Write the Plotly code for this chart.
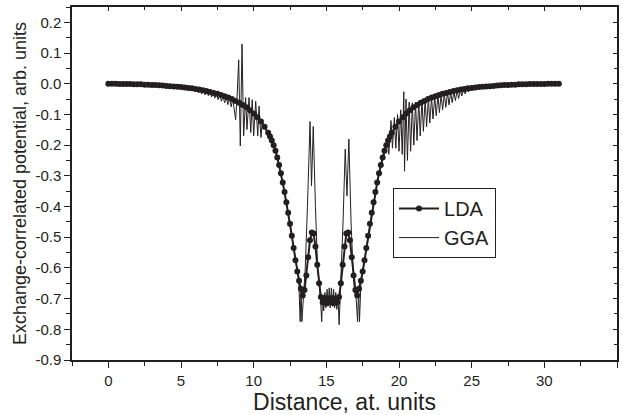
import numpy as np
import plotly.graph_objects as go

# ---------------- data ----------------
# LDA: x = 0 .. 11 (step 0.25)
lda_left = [0.000, 0.000, 0.000, -0.001, -0.001, -0.001, -0.001, -0.002, -0.002, -0.002,
            -0.003, -0.003, -0.004, -0.004, -0.005, -0.006, -0.007, -0.008, -0.009, -0.010,
            -0.011, -0.012, -0.014, -0.015, -0.017, -0.019, -0.021, -0.024, -0.027, -0.030,
            -0.033, -0.037, -0.041, -0.045, -0.050, -0.056, -0.062, -0.069, -0.077, -0.086,
            -0.097, -0.109, -0.123, -0.140, -0.160]
# LDA: x = 11.125 .. 19.375 (step 0.125)
lda_mid = [-0.172, -0.185, -0.200, -0.218, -0.240, -0.265, -0.292, -0.322, -0.353, -0.386,
           -0.420, -0.456, -0.495, -0.535, -0.575, -0.612, -0.642, -0.668, -0.690, -0.672,
           -0.625, -0.565, -0.510, -0.485, -0.488, -0.530, -0.590, -0.650, -0.695, -0.712,
           -0.698, -0.715, -0.700, -0.712, -0.698, -0.715, -0.700, -0.712, -0.695, -0.650,
           -0.590, -0.530, -0.488, -0.485, -0.510, -0.565, -0.625, -0.672, -0.690, -0.668,
           -0.642, -0.612, -0.575, -0.535, -0.495, -0.456, -0.420, -0.386, -0.353, -0.322,
           -0.292, -0.265, -0.240, -0.218, -0.200, -0.185, -0.172]
# LDA: x = 19.5 .. 31 (step 0.25)
lda_right = [-0.160, -0.140, -0.123, -0.109, -0.097, -0.086, -0.077, -0.069, -0.062, -0.056,
             -0.050, -0.045, -0.041, -0.037, -0.033, -0.030, -0.027, -0.024, -0.021, -0.019,
             -0.017, -0.015, -0.014, -0.012, -0.011, -0.010, -0.009, -0.008, -0.007, -0.006,
             -0.005, -0.004, -0.004, -0.003, -0.003, -0.002, -0.002, -0.002, -0.001, -0.001,
             -0.001, -0.001, -0.001, 0.000, 0.000, 0.000, 0.000]

lda_x = np.concatenate([
    np.arange(len(lda_left)) * 0.25,
    11.125 + np.arange(len(lda_mid)) * 0.125,
    19.5 + np.arange(len(lda_right)) * 0.25,
])
lda_y = np.array(lda_left + lda_mid + lda_right)

# GGA
gga_x = [0, 1, 2, 3, 4, 5, 5.5, 6.0,
         6.1, 6.2, 6.32, 6.42, 6.55, 6.65, 6.78, 6.88, 7.0, 7.1, 7.22, 7.32, 7.45, 7.55,
         7.68, 7.78, 7.9, 8.0, 8.12, 8.22, 8.35, 8.45, 8.56, 8.66,
         8.76, 8.86, 8.97, 9.08, 9.2, 9.31, 9.45, 9.54, 9.68, 9.8, 9.9, 10.0, 10.14, 10.28,
         10.37, 10.5, 10.6, 10.75, 11.0, 11.25, 11.5, 11.75, 12.0, 12.25, 12.5, 12.75, 12.9,
         13.0, 13.1, 13.2, 13.26, 13.32, 13.42, 13.55, 13.7, 13.88, 13.98, 14.1, 14.25, 14.4,
         14.52, 14.6, 14.68, 14.75, 14.82, 14.9, 14.97, 15.05, 15.12, 15.2, 15.27, 15.35,
         15.42, 15.5, 15.57, 15.65, 15.72, 15.8, 15.88, 15.95, 16.05, 16.15, 16.3, 16.42,
         16.55, 16.7, 16.85, 16.95, 17.05, 17.15, 17.22, 17.28, 17.38, 17.5, 17.6, 17.75,
         18.0, 18.25, 18.5, 18.75, 19.0, 19.2, 19.3,
         19.45, 19.55, 19.68, 19.78, 19.9, 20.0, 20.12, 20.22, 20.33, 20.38, 20.48, 20.58,
         20.7, 20.8, 20.92, 21.02, 21.14, 21.24, 21.36, 21.46, 21.58, 21.68, 21.8, 21.9,
         22.02, 22.12, 22.24, 22.34, 22.46, 22.56, 22.68, 22.78, 22.9, 23.0, 23.12, 23.22,
         23.34, 23.44, 23.56, 23.66, 23.78, 23.88, 24.0, 24.1, 24.22, 24.32, 24.45, 24.55,
         24.68, 24.78, 24.9, 25.0, 25.15, 25.25,
         25.5, 26, 27, 28, 29, 30, 31]
gga_y = [0.000, -0.001, -0.002, -0.004, -0.007, -0.011, -0.014, -0.017,
         -0.018, -0.030, -0.020, -0.033, -0.022, -0.036, -0.024, -0.039, -0.027, -0.043,
         -0.030, -0.047, -0.033, -0.052, -0.036, -0.057, -0.040, -0.062, -0.043, -0.068,
         -0.047, -0.075, -0.050, -0.090,
         -0.117, -0.040, 0.078, -0.203, 0.129, -0.170, -0.045, -0.149, -0.045, -0.159,
         -0.052, -0.170, -0.057, -0.170, -0.073, -0.175, -0.125, -0.140, -0.160, -0.185,
         -0.218, -0.265, -0.322, -0.386, -0.456, -0.535, -0.580,
         -0.612, -0.640, -0.775, -0.660, -0.775, -0.680, -0.600, -0.400, -0.123, -0.333,
         -0.139, -0.400, -0.600,
         -0.660, -0.700, -0.775, -0.690, -0.740, -0.680, -0.730, -0.670, -0.725, -0.665,
         -0.730, -0.665, -0.725, -0.670, -0.730, -0.680, -0.735, -0.690, -0.785, -0.700,
         -0.620, -0.450, -0.213, -0.365, -0.180, -0.450, -0.620, -0.680, -0.700, -0.775,
         -0.670, -0.775, -0.650, -0.615, -0.590, -0.535,
         -0.456, -0.386, -0.322, -0.265, -0.218, -0.190, -0.230,
         -0.120, -0.210, -0.110, -0.210, -0.100, -0.220, -0.085, -0.230, -0.026, -0.285,
         -0.050, -0.250, -0.060, -0.220, -0.062, -0.200, -0.060, -0.185, -0.056, -0.170,
         -0.052, -0.155, -0.049, -0.140, -0.046, -0.128, -0.043, -0.115, -0.040, -0.104,
         -0.037, -0.094, -0.034, -0.085, -0.031, -0.077, -0.029, -0.069, -0.027, -0.062,
         -0.025, -0.055, -0.022, -0.048, -0.020, -0.040, -0.018, -0.033, -0.016, -0.027,
         -0.015, -0.022, -0.013, -0.018,
         -0.011, -0.009, -0.005, -0.003, -0.001, -0.001, 0.000]

x_ticks = [0, 5, 10, 15, 20, 25, 30, 35]
y_ticks = [0.2, 0.1, 0.0, -0.1, -0.2, -0.3, -0.4, -0.5, -0.6, -0.7, -0.8, -0.9]
y_ticktext = ["0.2", "0.1", "0.0", "-0.1", "-0.2", "-0.3", "-0.4", "-0.5", "-0.6",
              "-0.7", "-0.8", "-0.9"]

INK = "#231f20"
FONT = "Arial, 'Liberation Sans', Helvetica, sans-serif"

fig = go.Figure()
fig.add_trace(go.Scatter(
    x=lda_x, y=lda_y, mode="lines+markers", name="LDA",
    line=dict(color=INK, width=2),
    marker=dict(color=INK, size=6, symbol="circle"),
))
fig.add_trace(go.Scatter(
    x=gga_x, y=gga_y, mode="lines", name="GGA",
    line=dict(color=INK, width=1),
))
# dummy trace for mirrored (top/right) axes with inward ticks
fig.add_trace(go.Scatter(x=[None], y=[None], xaxis="x2", yaxis="y2",
                         showlegend=False, hoverinfo="skip"))

axis_common = dict(showline=True, linecolor=INK, linewidth=1.5, showgrid=False,
                   zeroline=False, tickcolor=INK, tickwidth=1.2)

fig.update_layout(
    width=623, height=415,
    margin=dict(l=72, r=6, t=7, b=55),
    paper_bgcolor="white", plot_bgcolor="white",
    font=dict(family=FONT, color=INK, size=15),
    showlegend=True,
    legend=dict(
        x=0.589, y=0.487, xanchor="left", yanchor="top",
        bordercolor=INK, borderwidth=1, bgcolor="white",
        font=dict(size=20, color=INK, family=FONT),
        tracegroupgap=0, itemwidth=40,
    ),
    xaxis=dict(
        range=[-2.5, 35], tickmode="array", tickvals=x_ticks,
        ticks="outside", ticklen=6,
        minor=dict(ticks="outside", dtick=2.5, tick0=0, ticklen=4, tickcolor=INK),
        title=dict(text="Distance, at. units", font=dict(size=23, color=INK), standoff=2),
        tickfont=dict(size=15), **axis_common,
    ),
    yaxis=dict(
        range=[-0.9, 0.25], tickmode="array", tickvals=y_ticks, ticktext=y_ticktext,
        ticks="outside", ticklen=6,
        minor=dict(ticks="outside", dtick=0.05, tick0=0, ticklen=4, tickcolor=INK),
        title=dict(text="Exchange-correlated potential, arb. units",
                   font=dict(size=18, color=INK), standoff=4),
        tickfont=dict(size=15), **axis_common,
    ),
    xaxis2=dict(
        range=[-2.5, 35], overlaying="x", side="top", anchor="y",
        tickmode="array", tickvals=x_ticks, ticks="inside", ticklen=4,
        minor=dict(ticks="inside", dtick=2.5, tick0=0, ticklen=3, tickcolor=INK),
        showticklabels=False, **axis_common,
    ),
    yaxis2=dict(
        range=[-0.9, 0.25], overlaying="y", side="right", anchor="x",
        tickmode="array", tickvals=y_ticks, ticks="inside", ticklen=4,
        minor=dict(ticks="inside", dtick=0.05, tick0=0, ticklen=3, tickcolor=INK),
        showticklabels=False, **axis_common,
    ),
)

fig.write_html("out.html")
